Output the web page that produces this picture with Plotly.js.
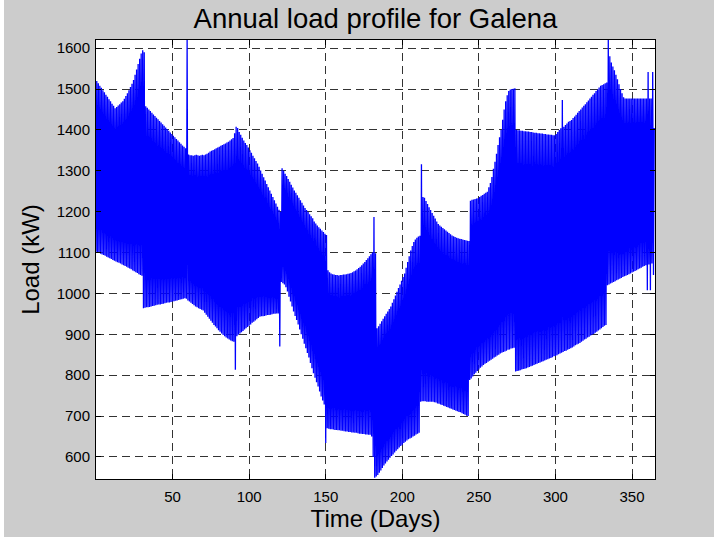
<!DOCTYPE html>
<html>
<head>
<meta charset="utf-8">
<script src="https://cdn.plot.ly/plotly-3.0.1.min.js"></script>
<style>
html,body{margin:0;padding:0;background:#cccccc;}
#chart{width:714px;height:537px;}
</style>
</head>
<body>
<div id="chart"></div>
<script>
// Daily maximum load (kW), days 0..364
const dailyMax = [
1520,1514,1508,1503,1497,1492,1486,1481,1475,1470,1464,1459,1453,
1456,1460,1463,1467,1470,1476,1483,1490,1497,1505,1513,1522,1535,1548,1561,1574,1587,1595,1590,
1458,1454,1450,1446,1442,1438,1434,1430,1426,1422,1418,1414,1410,1406,1402,1398,1394,1390,1386,1382,1378,1374,1370,1366,1362,1359,1355,
1620,
1340,1338,1338,1337,1338,1339,1338,1337,1338,1339,1338,1340,1342,1344,1347,1349,1351,1353,1355,1357,1359,1361,1363,1365,1367,1369,1371,1374,1377,1380,1392,1408,1405,1395,1388,1381,1374,1368,1363,
1357,1350,1344,1337,1331,1324,1318,1310,1301,1293,1284,1276,1268,1260,1252,1244,1236,1228,1220,1212,1205,1200,
1306,1300,1293,1287,1280,1273,1266,1259,1252,1246,1240,1234,1228,1222,1215,1209,1204,1199,1194,1189,1184,1176,1171,1166,1162,1158,1154,1150,1146,1143,
1057,1052,1049,1047,1046,1045,1045,1044,1045,1045,1046,1046,1047,1048,1049,1050,1052,1054,1056,1059,1062,1065,1069,1073,1077,1082,1086,1091,1096,1100,1187,1098,
915,920,926,932,938,944,950,956,962,968,977,986,995,1004,1013,1022,1031,1040,1049,1063,1077,1091,1105,1116,1126,1132,1136,1139,1141,1316,1236,
1234,1226,1219,1211,1204,1197,1190,1183,1176,1170,1166,1163,1160,1157,1154,1151,1148,1145,1142,1140,1138,1136,1135,1134,1133,1132,1131,1130,1129,1128,
1227,1229,1230,1231,1232,1233,1236,1239,1241,1244,1246,1249,1260,1270,1285,1305,1322,1342,1363,1382,1400,1425,1450,1470,1485,1495,1499,1500,1501,1502,
1400,1399,1399,1398,1398,1397,1397,1396,1396,1395,1395,1394,1393,1393,1392,1392,1391,1391,1390,1390,1389,1389,1388,1388,1387,1387,1390,1395,1400,1404,1473,
1408,1412,1416,1420,1422,1424,1429,1433,1437,1442,1446,1450,1455,1459,1463,1468,1472,1477,1481,1486,1490,1495,1499,1504,1508,1510,1512,1514,1516,
1620,1580,1565,1555,1546,1535,1524,1512,1500,1490,1480,
1477,1477,1477,1477,1477,1477,1477,1477,1477,1477,1477,1477,1477,1477,1477,1542,1477,1477,1542,1405
];

// Daily minimum load (kW), days 0..364
const dailyMin = [
1102,1100,1099,1097,1095,1094,1092,1090,1088,1086,1084,1082,1080,1078,1076,1075,1073,1071,1069,1067,1065,1063,1061,1059,1056,1054,1052,1050,1047,1045,1043,
964,965,966,966,967,968,969,970,971,972,973,973,974,975,976,977,978,978,979,980,981,982,983,984,985,986,987,988,987,
983,980,977,974,971,968,966,964,962,960,958,953,948,943,938,933,928,923,919,915,910,906,902,898,895,892,890,887,885,883,882,813,895,899,902,
905,908,912,915,918,921,924,928,931,934,937,940,943,944,944,945,946,947,947,948,949,950,950,951,951,870,
1028,1025,1022,1015,1005,992,980,968,956,945,935,924,912,900,889,877,866,854,843,830,817,805,794,783,772,760,748,738,728,634,670,
669,668,668,667,666,666,665,665,664,664,663,662,662,661,661,660,660,659,659,658,657,657,656,656,655,655,654,654,650,600,549,
552,556,561,567,573,579,584,589,593,598,602,606,611,615,619,623,627,630,634,637,640,643,645,647,650,652,655,657,659,735,
736,736,736,735,735,735,735,735,734,733,731,730,728,727,725,724,722,721,719,718,716,715,713,712,710,709,707,705,703,701,700,
788,792,797,802,806,810,814,818,821,825,828,830,833,835,838,840,843,845,848,850,853,855,857,858,860,862,863,865,866,867,
809,810,811,812,814,815,816,817,819,820,822,823,825,827,828,830,831,833,834,836,
838,839,841,842,844,846,847,849,851,853,855,857,859,860,862,864,866,868,870,873,
875,877,879,882,884,887,889,892,894,897,899,901,904,906,909,912,915,918,921,923,
1020,1022,1024,1026,1028,1030,1032,1034,1036,1038,1040,1042,1043,1045,1047,1049,1051,1053,1055,1057,1059,1061,1063,1065,1067,1069,1008,1071,1008,1073,1045
];

const xTicks = [50, 100, 150, 200, 250, 300, 350];
const yTicks = [600, 700, 800, 900, 1000, 1100, 1200, 1300, 1400, 1500, 1600];

const chartTitle = "Annual load profile for Galena";
const xLabel = "Time (Days)";
const yLabel = "Load (kW)";

// Each day: the load swings from its minimum (night) to its maximum (midday)
const xs = [], ys = [];
const nDays = Math.min(dailyMax.length, dailyMin.length);
for (let d = 0; d < nDays; d++) {
  xs.push(d); ys.push(dailyMin[d]);
  xs.push(d + 0.5); ys.push(dailyMax[d]);
}

const font = "Liberation Sans, Arial, Helvetica, sans-serif";
const L = 96, R = 59, T = 40, B = 58;
const W = 714, H = 537;
const pw = W - L - R, ph = H - T - B;

const axisCommon = {
  showline: true, linecolor: "#000", linewidth: 1, mirror: "ticks",
  ticks: "inside", ticklen: 5, tickwidth: 1, tickcolor: "#000",
  showgrid: true, gridcolor: "#333333", gridwidth: 1, griddash: "8px,5px",
  zeroline: false, tickfont: {family: font, size: 15, color: "#000"},
  automargin: false
};

const layout = {
  width: W, height: H,
  margin: {l: L, r: R, t: T, b: B, pad: 0},
  paper_bgcolor: "#cccccc", plot_bgcolor: "#ffffff",
  showlegend: false,
  title: {text: chartTitle, font: {family: font, size: 27.5, color: "#000"},
          x: 0.5, xref: "paper", xanchor: "center", y: 1 - 18 / H, yref: "container", yanchor: "middle"},
  xaxis: Object.assign({}, axisCommon, {
    range: [0, 365], tickvals: xTicks, ticktext: xTicks.map(String),
    ticklabelstandoff: 4,
    title: {text: xLabel, font: {family: font, size: 24, color: "#000"}, standoff: 4}
  }),
  yaxis: Object.assign({}, axisCommon, {
    range: [546, 1620], tickvals: yTicks, ticktext: yTicks.map(String),
    ticklabelstandoff: 2,
    title: {text: yLabel, font: {family: font, size: 24, color: "#000"}, standoff: 10}
  }),
  shapes: [{
    type: "rect", xref: "paper", yref: "paper", layer: "below",
    x0: -L / pw, x1: -(L - 4) / pw, y0: -B / ph, y1: 1 + T / ph,
    fillcolor: "#ffffff", line: {width: 0}
  }]
};

Plotly.newPlot("chart", [{
  type: "scatter", mode: "lines", x: xs, y: ys,
  line: {color: "#0000ff", width: 1.3}, hoverinfo: "skip"
}], layout, {displayModeBar: false, staticPlot: true});
</script>
</body>
</html>
